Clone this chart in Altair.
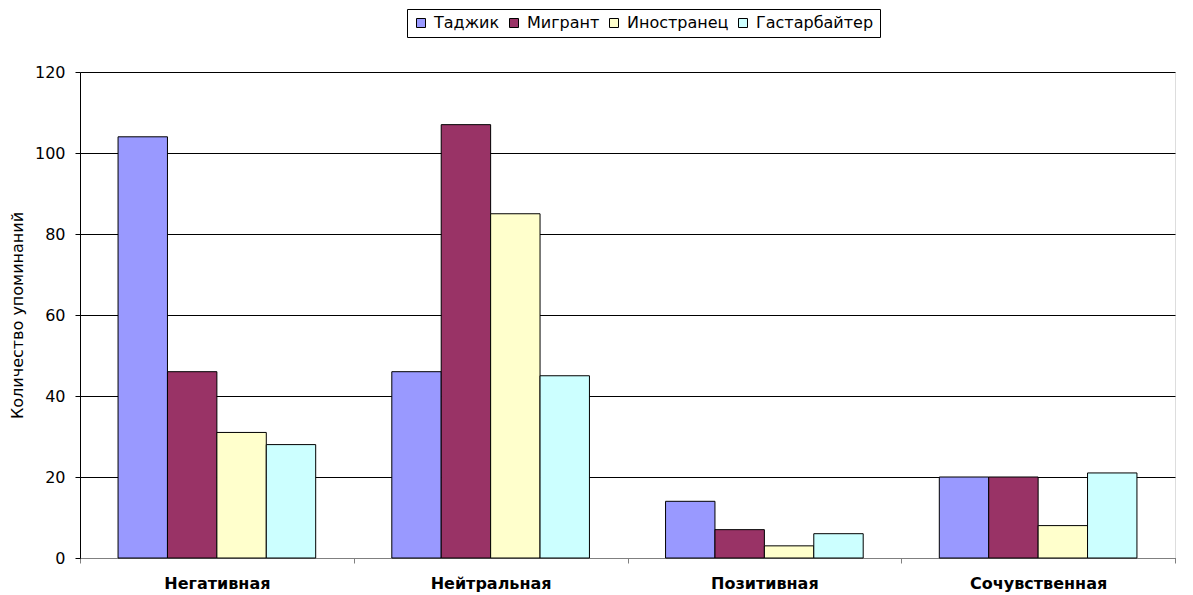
import altair as alt
import pandas as pd

categories = ["Негативная", "Нейтральная", "Позитивная", "Сочувственная"]
series = ["Таджик", "Мигрант", "Иностранец", "Гастарбайтер"]
values = {
    "Таджик": [104, 46, 14, 20],
    "Мигрант": [46, 107, 7, 20],
    "Иностранец": [31, 85, 3, 8],
    "Гастарбайтер": [28, 45, 6, 21],
}
colors = ["#9999FF", "#993366", "#FFFFCC", "#CCFFFF"]
y_ticks = [0, 20, 40, 60, 80, 100, 120]

rows = []
for s in series:
    for c, v in zip(categories, values[s]):
        rows.append({"category": c, "series": s, "value": v})
df = pd.DataFrame(rows)

FONT = "DejaVu Sans"

chart = alt.Chart(df).mark_bar(stroke="black", strokeWidth=1).encode(
    x=alt.X("category:N", sort=categories, title=None,
            scale=alt.Scale(paddingInner=0, paddingOuter=0),
            axis=alt.Axis(labelAngle=0, labelFontWeight="bold", labelFontSize=16,
                          labelFont=FONT, labelColor="black", tickBand="extent",
                          tickSize=5, tickColor="#808080", domainColor="#808080",
                          labelPadding=12, grid=False)),
    xOffset=alt.XOffset("series:N", sort=series,
                        scale=alt.Scale(paddingInner=0, paddingOuter=0.77)),
    y=alt.Y("value:Q", title="Количество упоминаний",
            scale=alt.Scale(domain=[0, 120], nice=False),
            axis=alt.Axis(values=y_ticks, grid=True, gridColor="black", gridWidth=1,
                          tickSize=5, tickColor="black", domainColor="black",
                          labelFont=FONT, labelFontSize=16, labelColor="black",
                          labelPadding=10, titleFont=FONT, titleFontSize=16,
                          titleFontWeight="normal", titleColor="black",
                          titlePadding=9)),
    color=alt.Color("series:N", sort=series,
                    scale=alt.Scale(domain=series, range=colors),
                    legend=alt.Legend(title=None, orient="none", direction="horizontal",
                                      legendX=327, legendY=-63,
                                      symbolType="square", symbolSize=81,
                                      symbolStrokeColor="black", symbolStrokeWidth=1,
                                      labelFont=FONT, labelFontSize=16, labelColor="black",
                                      strokeColor="black", padding=6, columnPadding=6,
                                      symbolOffset=0, labelOffset=5)),
).properties(
    width=1095, height=486,
    autosize=alt.AutoSizeParams(type="none"),
    padding={"left": 72, "top": 64, "right": 10, "bottom": 36},
).configure_view(stroke=None).configure(background="white")

chart.save("out.html", embed_options={"renderer": "svg", "actions": False})
